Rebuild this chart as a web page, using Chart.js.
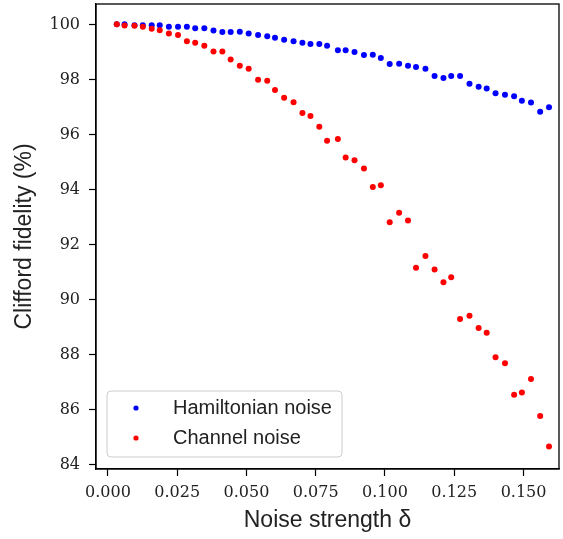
<!DOCTYPE html>
<html>
<head>
<meta charset="utf-8">
<script src="https://cdn.jsdelivr.net/npm/chart.js@4/dist/chart.umd.min.js"></script>
<style>
  html, body { margin: 0; padding: 0; background: #fff; }
  #wrap { width: 563px; height: 539px; }
</style>
</head>
<body>
<div id="wrap"><canvas id="c" width="563" height="539"></canvas></div>
<script>
// Noise strength (x values)
const delta = [0.0032,0.0060,0.0096,0.0126,0.0158,0.0187,0.0220,0.0253,0.0285,0.0315,
               0.0348,0.0381,0.0413,0.0443,0.0476,0.0508,0.0542,0.0575,0.0603,0.0636,
               0.0670,0.0702,0.0731,0.0763,0.0791,0.0830,0.0858,0.0890,0.0924,0.0956,
               0.0985,0.1017,0.1051,0.1083,0.1112,0.1146,0.1179,0.1211,0.1239,0.1271,
               0.1305,0.1338,0.1367,0.1399,0.1433,0.1466,0.1494,0.1527,0.1560,0.1592];
// Clifford fidelity (%) — Hamiltonian noise
const hamiltonian = [100.0,100.0,99.97,99.97,99.97,99.97,99.91,99.91,99.91,99.86,
                     99.86,99.78,99.72,99.72,99.73,99.67,99.61,99.57,99.51,99.44,
                     99.39,99.33,99.29,99.29,99.22,99.06,99.06,99.00,98.89,98.90,
                     98.78,98.56,98.57,98.50,98.45,98.39,98.12,98.05,98.12,98.12,
                     97.84,97.73,97.67,97.50,97.44,97.39,97.22,97.16,96.82,96.99];
// Clifford fidelity (%) — Channel noise
const channel = [100.0,99.96,99.95,99.91,99.84,99.79,99.67,99.61,99.39,99.33,
                 99.22,99.01,99.01,98.72,98.50,98.39,97.99,97.95,97.61,97.33,
                 97.17,96.78,96.67,96.28,95.77,95.83,95.16,95.06,94.76,94.09,
                 94.15,92.81,93.15,92.87,91.15,91.58,91.09,90.63,90.81,89.29,
                 89.41,88.96,88.79,87.90,87.68,86.54,86.62,87.11,85.77,84.66];
const seriesNames = ["Hamiltonian noise", "Channel noise"];
const xTicks = [0.000, 0.025, 0.050, 0.075, 0.100, 0.125, 0.150];
const yTicks = [84, 86, 88, 90, 92, 94, 96, 98, 100];
const xTitle = "Noise strength \u03B4";
const yTitle = "Clifford fidelity (%)";

const toPts = (xs, ys) => xs.map((x, i) => ({x: x, y: ys[i]}));

const framePlugin = {
  id: 'frame',
  afterDatasetsDraw(chart) {
    const {ctx, chartArea: a} = chart;
    ctx.save();
    ctx.strokeStyle = '#000';
    ctx.lineWidth = 1.3;
    ctx.strokeRect(a.left, a.top, a.right - a.left, a.bottom - a.top);
    ctx.restore();
  }
};

const legendPlugin = {
  id: 'innerLegend',
  afterDatasetsDraw(chart) {
    const {ctx, chartArea: a} = chart;
    const x0 = a.left + 11, y1 = a.bottom - 12;
    const w = 235, h = 66, y0 = y1 - h;
    ctx.save();
    ctx.beginPath();
    if (ctx.roundRect) ctx.roundRect(x0, y0, w, h, 4); else ctx.rect(x0, y0, w, h);
    ctx.fillStyle = 'rgba(255,255,255,0.85)';
    ctx.fill();
    ctx.strokeStyle = '#cccccc';
    ctx.lineWidth = 1;
    ctx.stroke();
    ctx.font = '20px "Liberation Sans", Arial, sans-serif';
    ctx.textBaseline = 'middle';
    ctx.textAlign = 'left';
    chart.data.datasets.forEach((ds, i) => {
      const cy = y0 + 17 + i * 30;
      ctx.beginPath();
      ctx.arc(x0 + 29, cy, 2.6, 0, Math.PI * 2);
      ctx.fillStyle = ds.backgroundColor;
      ctx.fill();
      ctx.fillStyle = '#222';
      ctx.fillText(ds.label, x0 + 66, cy);
    });
    ctx.restore();
  }
};

const noPad = s => { s.paddingTop = 0; s.paddingBottom = 0; s.paddingLeft = 0; s.paddingRight = 0; };

new Chart(document.getElementById('c'), {
  type: 'scatter',
  data: {
    datasets: [
      { label: seriesNames[0], data: toPts(delta, hamiltonian), backgroundColor: '#0000ff', borderColor: '#0000ff',
        pointRadius: 3, pointBorderWidth: 0, order: 1 },
      { label: seriesNames[1], data: toPts(delta, channel), backgroundColor: '#ff0000', borderColor: '#ff0000',
        pointRadius: 3, pointBorderWidth: 0, order: 0 }
    ]
  },
  options: {
    responsive: false,
    animation: false,
    devicePixelRatio: 1,
    layout: { padding: { left: 0, top: 3, right: 2, bottom: 0 } },
    plugins: { legend: { display: false }, tooltip: { enabled: false } },
    scales: {
      x: {
        type: 'linear',
        min: -0.0043, max: 0.1628,
        afterBuildTicks: s => { s.ticks = xTicks.map(v => ({value: v})); },
        afterFit: s => { s.height = 70; noPad(s); },
        ticks: {
          autoSkip: false, maxRotation: 0, padding: 7, color: '#222',
          font: { family: '"DejaVu Serif", serif', size: 16 },
          callback: v => Number(v).toFixed(3)
        },
        grid: { drawOnChartArea: false, tickLength: 7, tickColor: '#000', tickWidth: 1.2 },
        border: { display: true, color: '#000', width: 1.3 },
        title: { display: true, text: xTitle, color: '#222',
                 font: { family: '"Liberation Sans", Arial, sans-serif', size: 23 },
                 padding: { top: 0, bottom: 5 } }
      },
      y: {
        type: 'linear',
        min: 83.84, max: 100.74,
        afterBuildTicks: s => { s.ticks = yTicks.map(v => ({value: v})); },
        afterFit: s => { s.width = 96; noPad(s); },
        ticks: {
          autoSkip: false, padding: 9, color: '#222',
          font: { family: '"DejaVu Serif", serif', size: 16 },
          callback: v => String(Math.round(v))
        },
        grid: { drawOnChartArea: false, tickLength: 7, tickColor: '#000', tickWidth: 1.2 },
        border: { display: true, color: '#000', width: 1.3 },
        title: { display: true, text: yTitle, color: '#222',
                 font: { family: '"Liberation Sans", Arial, sans-serif', size: 23 },
                 padding: { top: 11, bottom: 0 } }
      }
    }
  },
  plugins: [framePlugin, legendPlugin]
});
</script>
</body>
</html>
